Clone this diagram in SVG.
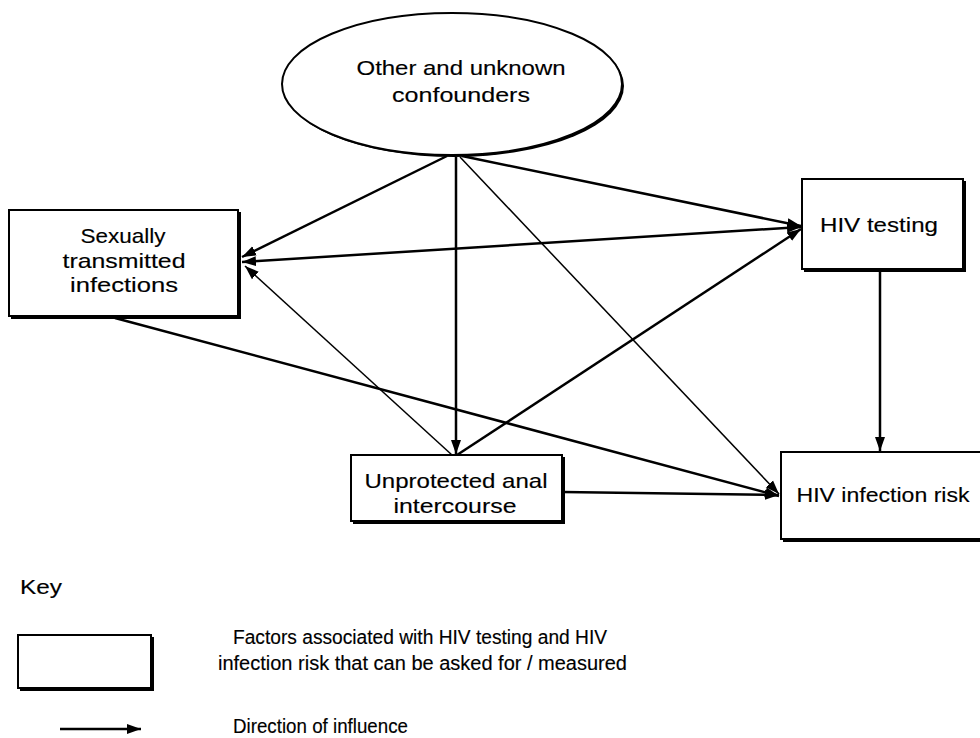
<svg xmlns="http://www.w3.org/2000/svg" width="980" height="738" viewBox="0 0 980 738">
  <style>
    text { font-family: "Liberation Sans", Arial, sans-serif; fill: #000; stroke: #000; stroke-width: 0.15; }
    .node { font-size: 21px; text-anchor: middle; }
    .key { font-size: 20px; }
    .box { fill: #fff; stroke: #000; stroke-width: 2; }
    .shadow { fill: #000; }
    .thick { stroke: #000; stroke-width: 2.5; fill: none; }
    .thin { stroke: #000; stroke-width: 1.5; fill: none; }
  </style>
  <defs>
    <marker id="arrow" markerUnits="userSpaceOnUse" markerWidth="16" markerHeight="12" refX="14" refY="6" orient="auto-start-reverse">
      <path d="M0,1 L14,6 L0,11 Z" fill="#000"/>
    </marker>
  </defs>

  <rect width="980" height="738" fill="#fff"/>

  <!-- connectors -->
  <g id="connectors">
    <line class="thick" x1="447" y1="156" x2="242" y2="257" marker-end="url(#arrow)"/>
    <line class="thick" x1="456" y1="157" x2="456" y2="454" marker-end="url(#arrow)"/>
    <line class="thick" x1="462" y1="156" x2="801" y2="226" marker-end="url(#arrow)"/>
    <line class="thin" x1="460" y1="157" x2="779" y2="494" marker-end="url(#arrow)"/>
    <line class="thick" x1="242" y1="262" x2="801" y2="227" marker-start="url(#arrow)" marker-end="url(#arrow)"/>
    <line class="thin" x1="452" y1="455" x2="245" y2="266" marker-end="url(#arrow)"/>
    <line class="thick" x1="457" y1="455" x2="801" y2="229" marker-end="url(#arrow)"/>
    <line class="thick" x1="115" y1="318" x2="779" y2="496" marker-end="url(#arrow)"/>
    <line class="thick" x1="563" y1="492" x2="779" y2="495" marker-end="url(#arrow)"/>
    <line class="thick" x1="880" y1="271" x2="880" y2="451" marker-end="url(#arrow)"/>
  </g>

  <!-- nodes -->
  <g id="confounders">
    <ellipse class="shadow" cx="454" cy="86" rx="170" ry="71"/>
    <ellipse class="box" cx="452" cy="84" rx="170" ry="71"/>
    <text class="node" x="461" y="75" textLength="209" lengthAdjust="spacingAndGlyphs">Other and unknown</text>
    <text class="node" x="461" y="102" textLength="138" lengthAdjust="spacingAndGlyphs">confounders</text>
  </g>

  <g id="sti">
    <rect class="shadow" x="11" y="212" width="230" height="107"/>
    <rect class="box" x="9" y="210" width="229" height="106"/>
    <text class="node" x="123" y="243" textLength="85" lengthAdjust="spacingAndGlyphs">Sexually</text>
    <text class="node" x="124" y="268" textLength="123" lengthAdjust="spacingAndGlyphs">transmitted</text>
    <text class="node" x="124" y="292" textLength="108" lengthAdjust="spacingAndGlyphs">infections</text>
  </g>

  <g id="hiv-testing">
    <rect class="shadow" x="804" y="181" width="162" height="91"/>
    <rect class="box" x="802" y="179" width="161" height="90"/>
    <text class="node" x="879" y="232" textLength="118" lengthAdjust="spacingAndGlyphs">HIV testing</text>
  </g>

  <g id="uai">
    <rect class="shadow" x="353" y="457" width="212" height="67"/>
    <rect class="box" x="351" y="455" width="211" height="66"/>
    <text class="node" x="456" y="488" textLength="183" lengthAdjust="spacingAndGlyphs">Unprotected anal</text>
    <text class="node" x="455" y="513" textLength="123" lengthAdjust="spacingAndGlyphs">intercourse</text>
  </g>

  <g id="hiv-infection-risk">
    <rect class="shadow" x="783" y="454" width="210" height="88"/>
    <rect class="box" x="781" y="452" width="210" height="87"/>
    <text class="node" x="883" y="502" textLength="173" lengthAdjust="spacingAndGlyphs">HIV infection risk</text>
  </g>

  <!-- legend -->
  <g id="legend">
    <text class="key" x="20" y="594" textLength="42" lengthAdjust="spacingAndGlyphs">Key</text>
    <rect class="shadow" x="20" y="637" width="134" height="54"/>
    <rect class="box" x="18" y="635" width="133" height="53"/>
    <text class="key" x="233" y="644" textLength="374" lengthAdjust="spacingAndGlyphs">Factors associated with HIV testing and HIV</text>
    <text class="key" x="218" y="670" textLength="409" lengthAdjust="spacingAndGlyphs">infection risk that can be asked for / measured</text>
    <line class="thick" x1="60" y1="729" x2="141" y2="729" marker-end="url(#arrow)"/>
    <text class="key" x="233" y="733" textLength="175" lengthAdjust="spacingAndGlyphs">Direction of influence</text>
  </g>
</svg>
